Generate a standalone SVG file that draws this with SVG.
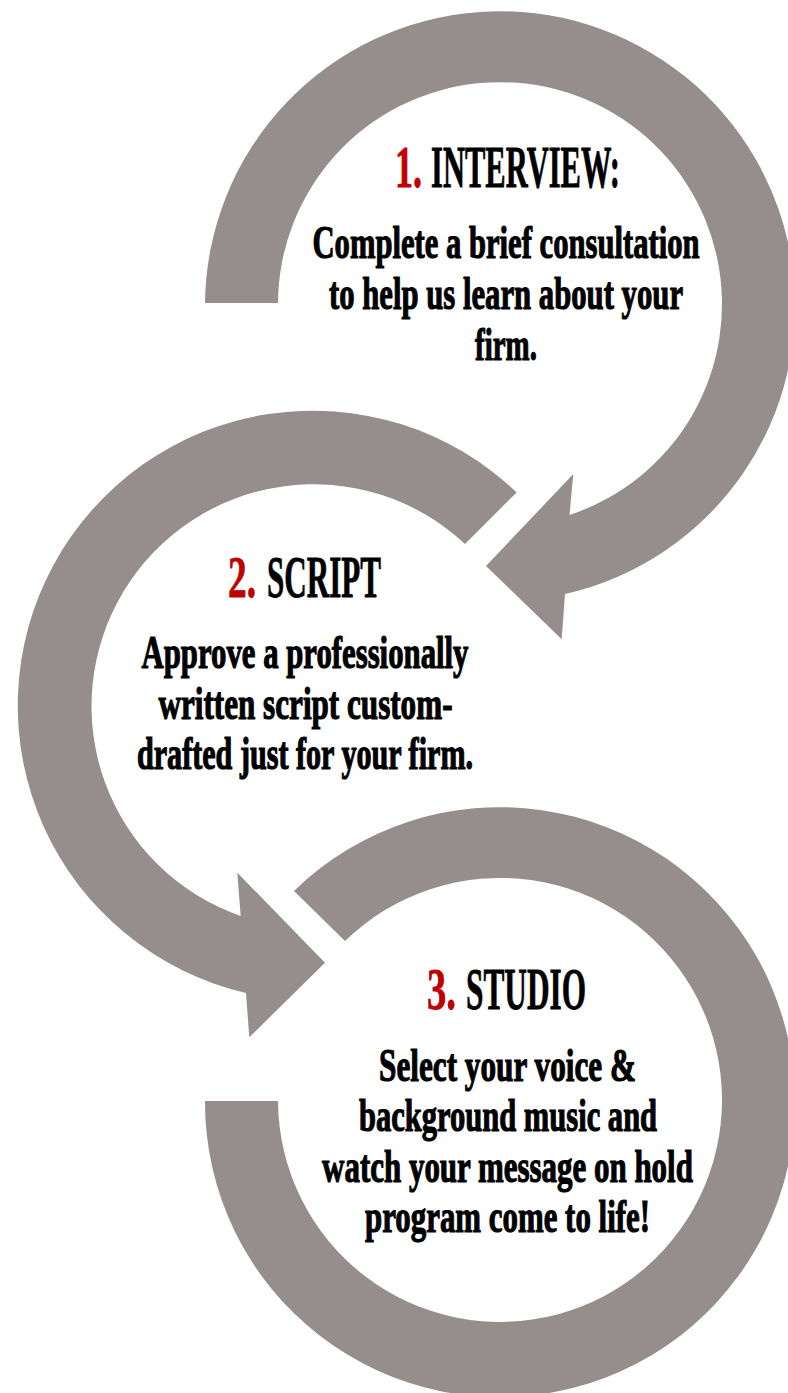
<svg xmlns="http://www.w3.org/2000/svg" width="788" height="1393" viewBox="0 0 788 1393">
  <style>
    .ring { fill: #968d8d; }
    .title { font-family: "Liberation Serif", "Times New Roman", serif; font-size: 60px; font-weight: bold; fill: #000; stroke: #000; stroke-width: 0.8px; }
    .num { fill: #c00000; stroke: #c00000; }
    .body { font-family: "Liberation Serif", "Times New Roman", serif; font-size: 47px; font-weight: bold; fill: #000; stroke: #000; stroke-width: 1.2px; text-anchor: middle; }
  </style>
  <rect width="788" height="1393" fill="#ffffff"/>
  <g id="connectors">
    <path id="arrow-1" class="ring" d="M 205 303 A 295 295 0 1 1 565 594 L 561.7 639.3 L 486 566 L 573.3 474 L 569.5 515 A 222 222 0 1 0 278 303 Z"/>
    <path id="arrow-2" class="ring" d="M 516.6 492.4 A 295 295 0 1 0 246 993 L 249.3 1037.3 L 325 962.7 L 237.3 872.7 L 240.7 916 A 222 222 0 1 1 465 544 Z"/>
    <path id="arrow-3" class="ring" d="M 294 891 A 295 295 0 1 1 205 1101 L 278 1101 A 222 222 0 1 0 345 941 Z"/>
  </g>
  <g id="node-1">
    <text class="title num" transform="translate(395 187) scale(0.5 1)" textLength="54" lengthAdjust="spacingAndGlyphs">1.</text>
    <text class="title" transform="translate(431 187) scale(0.5 1)" textLength="378" lengthAdjust="spacingAndGlyphs">INTERVIEW:</text>
    <text class="body" transform="translate(506 258) scale(0.6 1)" textLength="645" lengthAdjust="spacingAndGlyphs">Complete a brief consultation</text>
    <text class="body" transform="translate(506 309) scale(0.6 1)" textLength="590" lengthAdjust="spacingAndGlyphs">to help us learn about your</text>
    <text class="body" transform="translate(506 360) scale(0.6 1)" textLength="103" lengthAdjust="spacingAndGlyphs">firm.</text>
  </g>
  <g id="node-2">
    <text class="title num" transform="translate(228 597) scale(0.5 1)" textLength="56" lengthAdjust="spacingAndGlyphs">2.</text>
    <text class="title" transform="translate(267 597) scale(0.5 1)" textLength="228" lengthAdjust="spacingAndGlyphs">SCRIPT</text>
    <text class="body" transform="translate(305 668) scale(0.6 1)" textLength="545" lengthAdjust="spacingAndGlyphs">Approve a professionally</text>
    <text class="body" transform="translate(305.5 719) scale(0.6 1)" textLength="490" lengthAdjust="spacingAndGlyphs">written script custom-</text>
    <text class="body" transform="translate(305 769) scale(0.6 1)" textLength="560" lengthAdjust="spacingAndGlyphs">drafted just for your firm.</text>
  </g>
  <g id="node-3">
    <text class="title num" transform="translate(427 1008.6) scale(0.5 1)" textLength="58" lengthAdjust="spacingAndGlyphs">3.</text>
    <text class="title" transform="translate(466 1008.6) scale(0.5 1)" textLength="240" lengthAdjust="spacingAndGlyphs">STUDIO</text>
    <text class="body" transform="translate(507.5 1081) scale(0.6 1)" textLength="428" lengthAdjust="spacingAndGlyphs">Select your voice &amp;</text>
    <text class="body" transform="translate(508 1131) scale(0.6 1)" textLength="497" lengthAdjust="spacingAndGlyphs">background music and</text>
    <text class="body" transform="translate(507.5 1181.5) scale(0.6 1)" textLength="618" lengthAdjust="spacingAndGlyphs">watch your message on hold</text>
    <text class="body" transform="translate(507.5 1232) scale(0.6 1)" textLength="475" lengthAdjust="spacingAndGlyphs">program come to life!</text>
  </g>
</svg>
